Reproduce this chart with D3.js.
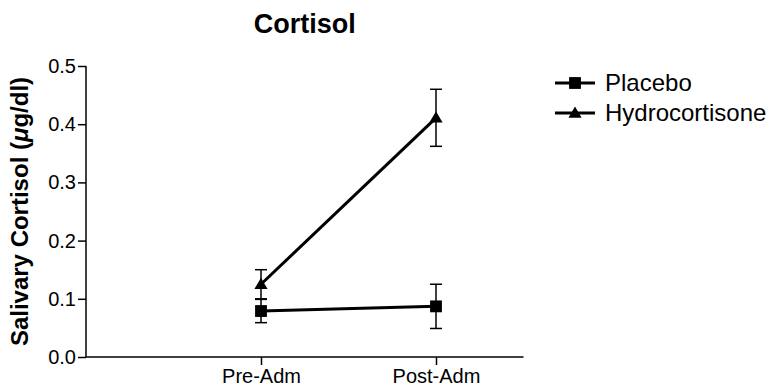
<!DOCTYPE html>
<html>
<head>
<meta charset="utf-8">
<script src="https://cdn.jsdelivr.net/npm/d3@7"></script>
<style>
  body { margin: 0; background: #fff; }
  svg { display: block; font-family: "Liberation Sans", Arial, Helvetica, sans-serif; }
</style>
</head>
<body>
<svg id="chart" width="770" height="388"></svg>
<script>
const categories = ["Pre-Adm", "Post-Adm"];
const seriesNames = ["Placebo", "Hydrocortisone"];
const placeboMean = [0.079, 0.087];
const placeboErr = [0.020, 0.038];
const hydroMean = [0.125, 0.411];
const hydroErr = [0.025, 0.049];
const yTicks = [0.0, 0.1, 0.2, 0.3, 0.4, 0.5];

(function () {
const series = [
  { name: seriesNames[0], mean: placeboMean, err: placeboErr, shape: "square" },
  { name: seriesNames[1], mean: hydroMean, err: hydroErr, shape: "triangle" }
];

const svg = d3.select("#chart");
const pLeft = 86, pRight = 523.5, pTop = 66, pBottom = 357;

const x = d3.scaleLinear().domain([0, 2.5]).range([pLeft, pRight]);
const xPos = c => x(categories.indexOf(c) + 1);
const y = d3.scaleLinear().domain([0, 0.5]).range([pBottom, pTop]);

// Title
svg.append("text").attr("x", (pLeft + pRight) / 2).attr("y", 33)
  .attr("text-anchor", "middle").attr("font-size", 27).attr("font-weight", "bold")
  .text("Cortisol");

// Y axis
const yAxis = svg.append("g").attr("transform", `translate(${pLeft},0)`)
  .call(d3.axisLeft(y).tickValues(yTicks).tickFormat(d3.format(".1f")).tickSize(8).tickPadding(2));
yAxis.select(".domain").attr("stroke", "#000").attr("stroke-width", 1.5).attr("d", `M0,${pTop}V${pBottom}`);
yAxis.selectAll(".tick line").attr("stroke", "#000").attr("stroke-width", 1.5);
yAxis.selectAll(".tick text").attr("font-size", 20).attr("fill", "#000")
  .attr("font-family", "Liberation Sans, Arial, sans-serif");

// X axis
const xAxis = svg.append("g").attr("transform", `translate(0,${pBottom})`)
  .call(d3.axisBottom(x).tickValues([1, 2]).tickFormat(d => categories[d - 1]).tickSize(8).tickPadding(4));
xAxis.select(".domain").attr("stroke", "#000").attr("stroke-width", 1.5).attr("d", `M${pLeft},0H${pRight}`);
xAxis.selectAll(".tick line").attr("stroke", "#000").attr("stroke-width", 1.5);
xAxis.selectAll(".tick text").attr("font-size", 20).attr("fill", "#000")
  .attr("font-family", "Liberation Sans, Arial, sans-serif");

// Y label
svg.append("text")
  .attr("transform", `translate(28,${(pTop + pBottom) / 2}) rotate(-90)`)
  .attr("text-anchor", "middle").attr("font-size", 24).attr("font-weight", "bold")
  .call(t => {
    t.append("tspan").text("Salivary Cortisol (");
    t.append("tspan").attr("font-style", "italic").text("μ");
    t.append("tspan").text("g/dl)");
  });

const symSquare = d3.symbol().type(d3.symbolSquare).size(140);
const symTri = d3.symbol().type(d3.symbolTriangle).size(75);

function marker(g, shape, cx, cy) {
  g.append("path")
    .attr("d", shape === "square" ? symSquare() : symTri())
    .attr("transform", `translate(${cx},${cy + (shape === "triangle" ? 1 : 0)})`)
    .attr("fill", "#000");
}

const plot = svg.append("g");
// Error bars
series.forEach(s => {
  categories.forEach((c, i) => {
    const cx = xPos(c);
    const hi = y(s.mean[i] + s.err[i]), lo = y(s.mean[i] - s.err[i]);
    plot.append("line").attr("x1", cx).attr("x2", cx).attr("y1", hi).attr("y2", lo)
      .attr("stroke", "#000").attr("stroke-width", 1.5);
    [hi, lo].forEach(yy => plot.append("line").attr("x1", cx - 6).attr("x2", cx + 6)
      .attr("y1", yy).attr("y2", yy).attr("stroke", "#000").attr("stroke-width", 1.5));
  });
});
// Lines
const line = d3.line().x((d, i) => xPos(categories[i])).y(d => y(d));
series.forEach(s => {
  plot.append("path").attr("d", line(s.mean)).attr("fill", "none")
    .attr("stroke", "#000").attr("stroke-width", 3);
});
// Markers
series.forEach(s => {
  categories.forEach((c, i) => marker(plot, s.shape, xPos(c), y(s.mean[i])));
});

// Legend
const legend = svg.append("g");
series.forEach((s, i) => {
  const ly = 83 + i * 30;
  legend.append("line").attr("x1", 555).attr("x2", 595).attr("y1", ly).attr("y2", ly)
    .attr("stroke", "#000").attr("stroke-width", 3);
  marker(legend, s.shape, 575, ly);
  legend.append("text").attr("x", 605).attr("y", ly).attr("dy", "0.35em")
    .attr("font-size", 24).text(s.name);
});
})();
</script>
</body>
</html>
